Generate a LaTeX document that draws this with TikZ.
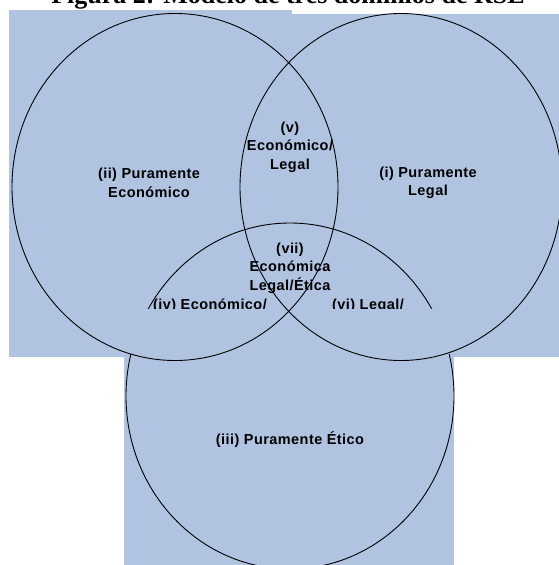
\documentclass[tikz,border=0pt]{standalone}
\usepackage{fontspec}
\newfontfamily\lblfont[LetterSpace=3]{Liberation Sans}
\newfontfamily\ttlfont{Liberation Serif}
\usetikzlibrary{positioning}
\definecolor{panel}{RGB}{176,196,226}
\tikzset{
    sphere/.style={
    draw=black,line width=0.9pt
    },
    region/.style={
    font=\lblfont\bfseries\fontsize{14.5}{18.5}\selectfont,align=center,inner sep=0pt
    },
    heading/.style={
    font=\ttlfont\bfseries\fontsize{26}{30}\selectfont,anchor=base,inner sep=0pt
    },
}

\begin{document}
\begin{tikzpicture}[x=1pt,y=-1pt]
   \useasboundingbox (0,0) rectangle (559,565);
   % blue panels
   \fill[panel] (9,10) rectangle (292,357);
   \fill[panel] (292,14) rectangle (559,357);
   \fill[panel] (124,357) rectangle (454,565);

   \node[heading] (title) at (288,3) {Figura 2: Modelo de tres dominios de RSE};

   % the three domains
   \draw[sphere] (175,187) ellipse [x radius=163pt, y radius=173.5pt];
   \draw[sphere] (401,187) ellipse [x radius=161pt, y radius=173.5pt];
   \begin{scope}
     \clip (0,0) rectangle (559,308);
     \draw[sphere] (290,396) ellipse [x radius=164pt, y radius=173pt];
     \node[region,anchor=base] (ecoeti) at (210,309.5) {(iv) Económico/};
     \node[region,anchor=base] (legeti) at (368,309.5) {(vi) Legal/};
   \end{scope}
   \begin{scope}
     \clip (0,354) rectangle (559,565);
     \draw[sphere] (290,396) ellipse [x radius=164pt, y radius=173pt];
   \end{scope}

   \node[region] (eco) at (149,183) {(ii) Puramente\\Económico};
   \node[region] (leg) at (428,183) {(i) Puramente\\Legal};
   \node[region] (ecoleg) at (290,147) {(v)\\Económico/\\Legal};
   \node[region] (todo) at (290,268) {(vii)\\Económica\\Legal/Ética};
   \node[region] (eti) at (290,440) {(iii) Puramente Ético};
\end{tikzpicture}
\end{document}
